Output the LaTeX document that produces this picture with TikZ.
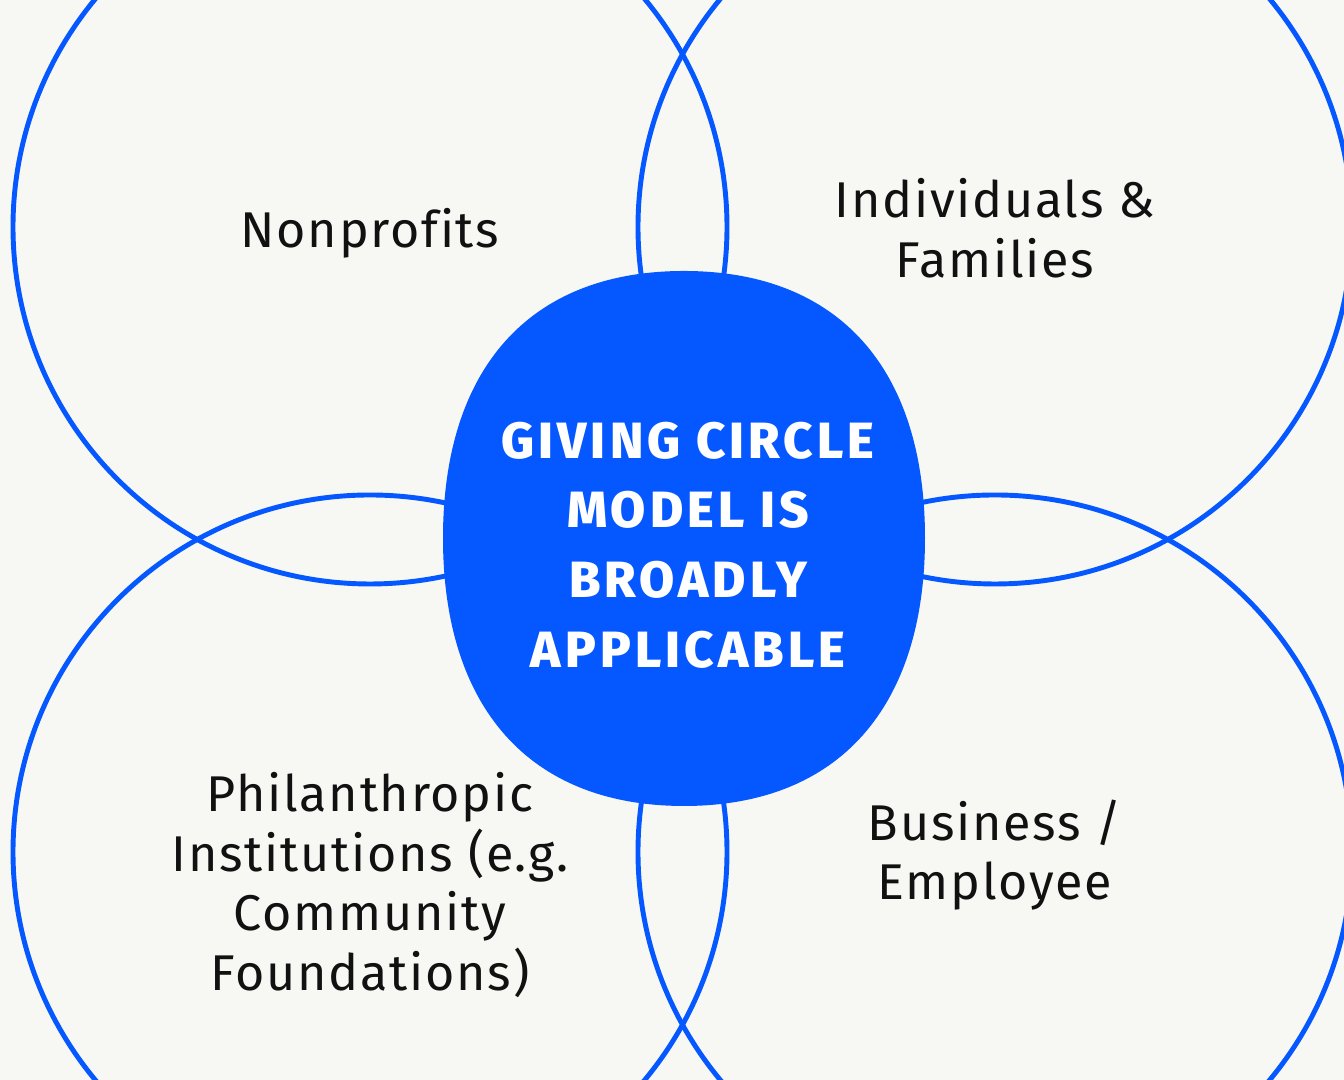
\documentclass[tikz,border=0pt]{standalone}
\usepackage{fontspec}
\setmainfont{Fira Sans}
\newfontfamily\labelfont[LetterSpace=3.5, Ligatures=NoCommon]{Fira Sans}
\newfontfamily\heavyfont[LetterSpace=8]{Fira Sans ExtraBold}
\usepackage{xcolor}
\usepackage{tikz}
\definecolor{ringblue}{HTML}{0557FF}
\definecolor{paper}{HTML}{F7F8F3}
\definecolor{ink}{HTML}{111111}

\begin{document}
\begin{tikzpicture}
  \useasboundingbox (0,0) rectangle (13.44,10.80);
  \clip (0,0) rectangle (13.44,10.80);
  \fill[paper] (0,0) rectangle (13.44,10.80);
  \draw[ringblue, line width=1.4pt] (3.70,8.53) circle (3.57);
  \draw[ringblue, line width=1.4pt] (9.95,8.53) circle (3.57);
  \draw[ringblue, line width=1.4pt] (3.70,2.28) circle (3.57);
  \draw[ringblue, line width=1.4pt] (9.95,2.28) circle (3.57);
  \fill[ringblue] (6.84,8.09) .. controls (8.40,8.09) and (9.25,7.10) .. (9.25,5.42)
    .. controls (9.25,3.74) and (8.40,2.74) .. (6.84,2.74)
    .. controls (5.28,2.74) and (4.43,3.74) .. (4.43,5.42)
    .. controls (4.43,7.10) and (5.28,8.09) .. (6.84,8.09) -- cycle;
  \node[font=\labelfont\fontsize{14.3}{17}\selectfont, text=ink, align=center] (nonprofits) at (3.70,8.47) {Nonprofits};
  \node[font=\labelfont\fontsize{14.3}{17}\selectfont, text=ink, align=center] (families) at (9.95,8.52) {Individuals \&\\Families};
  \node[font=\labelfont\fontsize{14.3}{17}\selectfont, text=ink, align=center] (institutions) at (3.70,1.95) {Philanthropic\\Institutions (e.g.\\Community\\Foundations)};
  \node[font=\labelfont\fontsize{14.3}{17}\selectfont, text=ink, align=center] (business) at (9.95,2.25) {Business /\\Employee};
  \node[font=\heavyfont\fontsize{14.5}{19.8}\selectfont, text=white, align=center] (model) at (6.88,5.35) {GIVING CIRCLE\\MODEL IS\\BROADLY\\APPLICABLE};
\end{tikzpicture}
\end{document}
